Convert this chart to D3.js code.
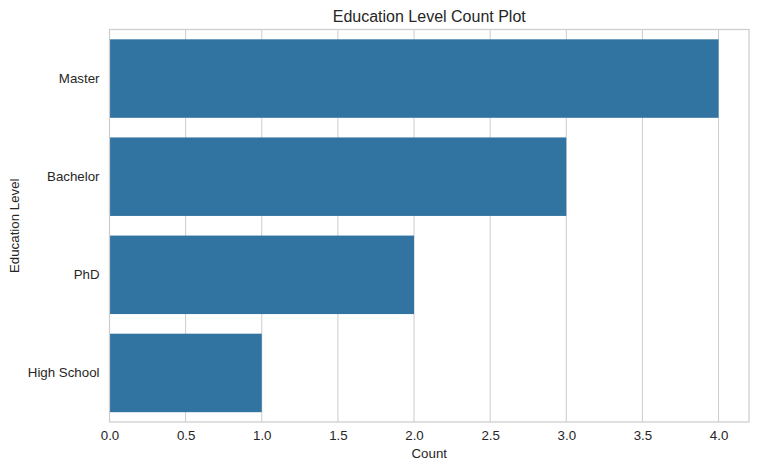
<!DOCTYPE html>
<html>
<head>
<meta charset="utf-8">
<script src="https://cdn.jsdelivr.net/npm/d3@7"></script>
<style>
  body { margin: 0; background: #fff; }
  svg text { font-family: "Liberation Sans", Arial, sans-serif; fill: #262626; }
</style>
</head>
<body>
<svg width="758" height="470"></svg>
<script>
var levels = ["Master", "Bachelor", "PhD", "High School"];
var counts = [4, 3, 2, 1];
var xTicks = [0, 0.5, 1, 1.5, 2, 2.5, 3, 3.5, 4];

function main() {
    var svg = d3.select("svg"),
        margin = {top: 29.5, right: 9, bottom: 48, left: 109.5},
        width = 758 - margin.left - margin.right,
        height = 470 - margin.top - margin.bottom;

    var g = svg.append("g")
        .attr("transform", "translate(" + margin.left + "," + margin.top + ")");

    var x = d3.scaleLinear().domain([0, 4.2]).range([0, width]);
    var y = d3.scaleBand().domain(levels).range([0, height]).paddingInner(0.2).paddingOuter(0.1);

    // vertical grid lines
    g.selectAll(".grid")
        .data(xTicks)
        .enter().append("line")
        .attr("x1", function(d) { return x(d); })
        .attr("x2", function(d) { return x(d); })
        .attr("y1", 0)
        .attr("y2", height)
        .attr("stroke", "#cccccc")
        .attr("stroke-width", 1);

    g.selectAll(".bar")
        .data(levels)
        .enter().append("rect")
        .attr("x", x(0))
        .attr("y", function(d) { return y(d); })
        .attr("width", function(d, i) { return x(counts[i]) - x(0); })
        .attr("height", y.bandwidth())
        .attr("fill", "#3274a1");

    // frame
    g.append("rect")
        .attr("width", width)
        .attr("height", height)
        .attr("fill", "none")
        .attr("stroke", "#cccccc")
        .attr("stroke-width", 1.2);

    var xAxis = g.append("g")
        .attr("transform", "translate(0," + height + ")")
        .call(d3.axisBottom(x).tickValues(xTicks).tickSize(0).tickPadding(9)
            .tickFormat(d3.format(".1f")));
    xAxis.select(".domain").remove();
    xAxis.selectAll("text").style("font-size", "13.3px").style("fill", "#262626");

    var yAxis = g.append("g")
        .call(d3.axisLeft(y).tickSize(0).tickPadding(10));
    yAxis.select(".domain").remove();
    yAxis.selectAll("text").style("font-size", "13.3px").style("fill", "#262626");

    svg.append("text")
        .attr("x", margin.left + width / 2)
        .attr("y", 22)
        .attr("text-anchor", "middle")
        .style("font-size", "16px")
        .text("Education Level Count Plot");

    svg.append("text")
        .attr("x", margin.left + width / 2)
        .attr("y", 458)
        .attr("text-anchor", "middle")
        .style("font-size", "13.3px")
        .text("Count");

    svg.append("text")
        .attr("transform", "translate(18.5," + (margin.top + height / 2) + ") rotate(-90)")
        .attr("text-anchor", "middle")
        .style("font-size", "13.3px")
        .text("Education Level");
}
main();
</script>
</body>
</html>
